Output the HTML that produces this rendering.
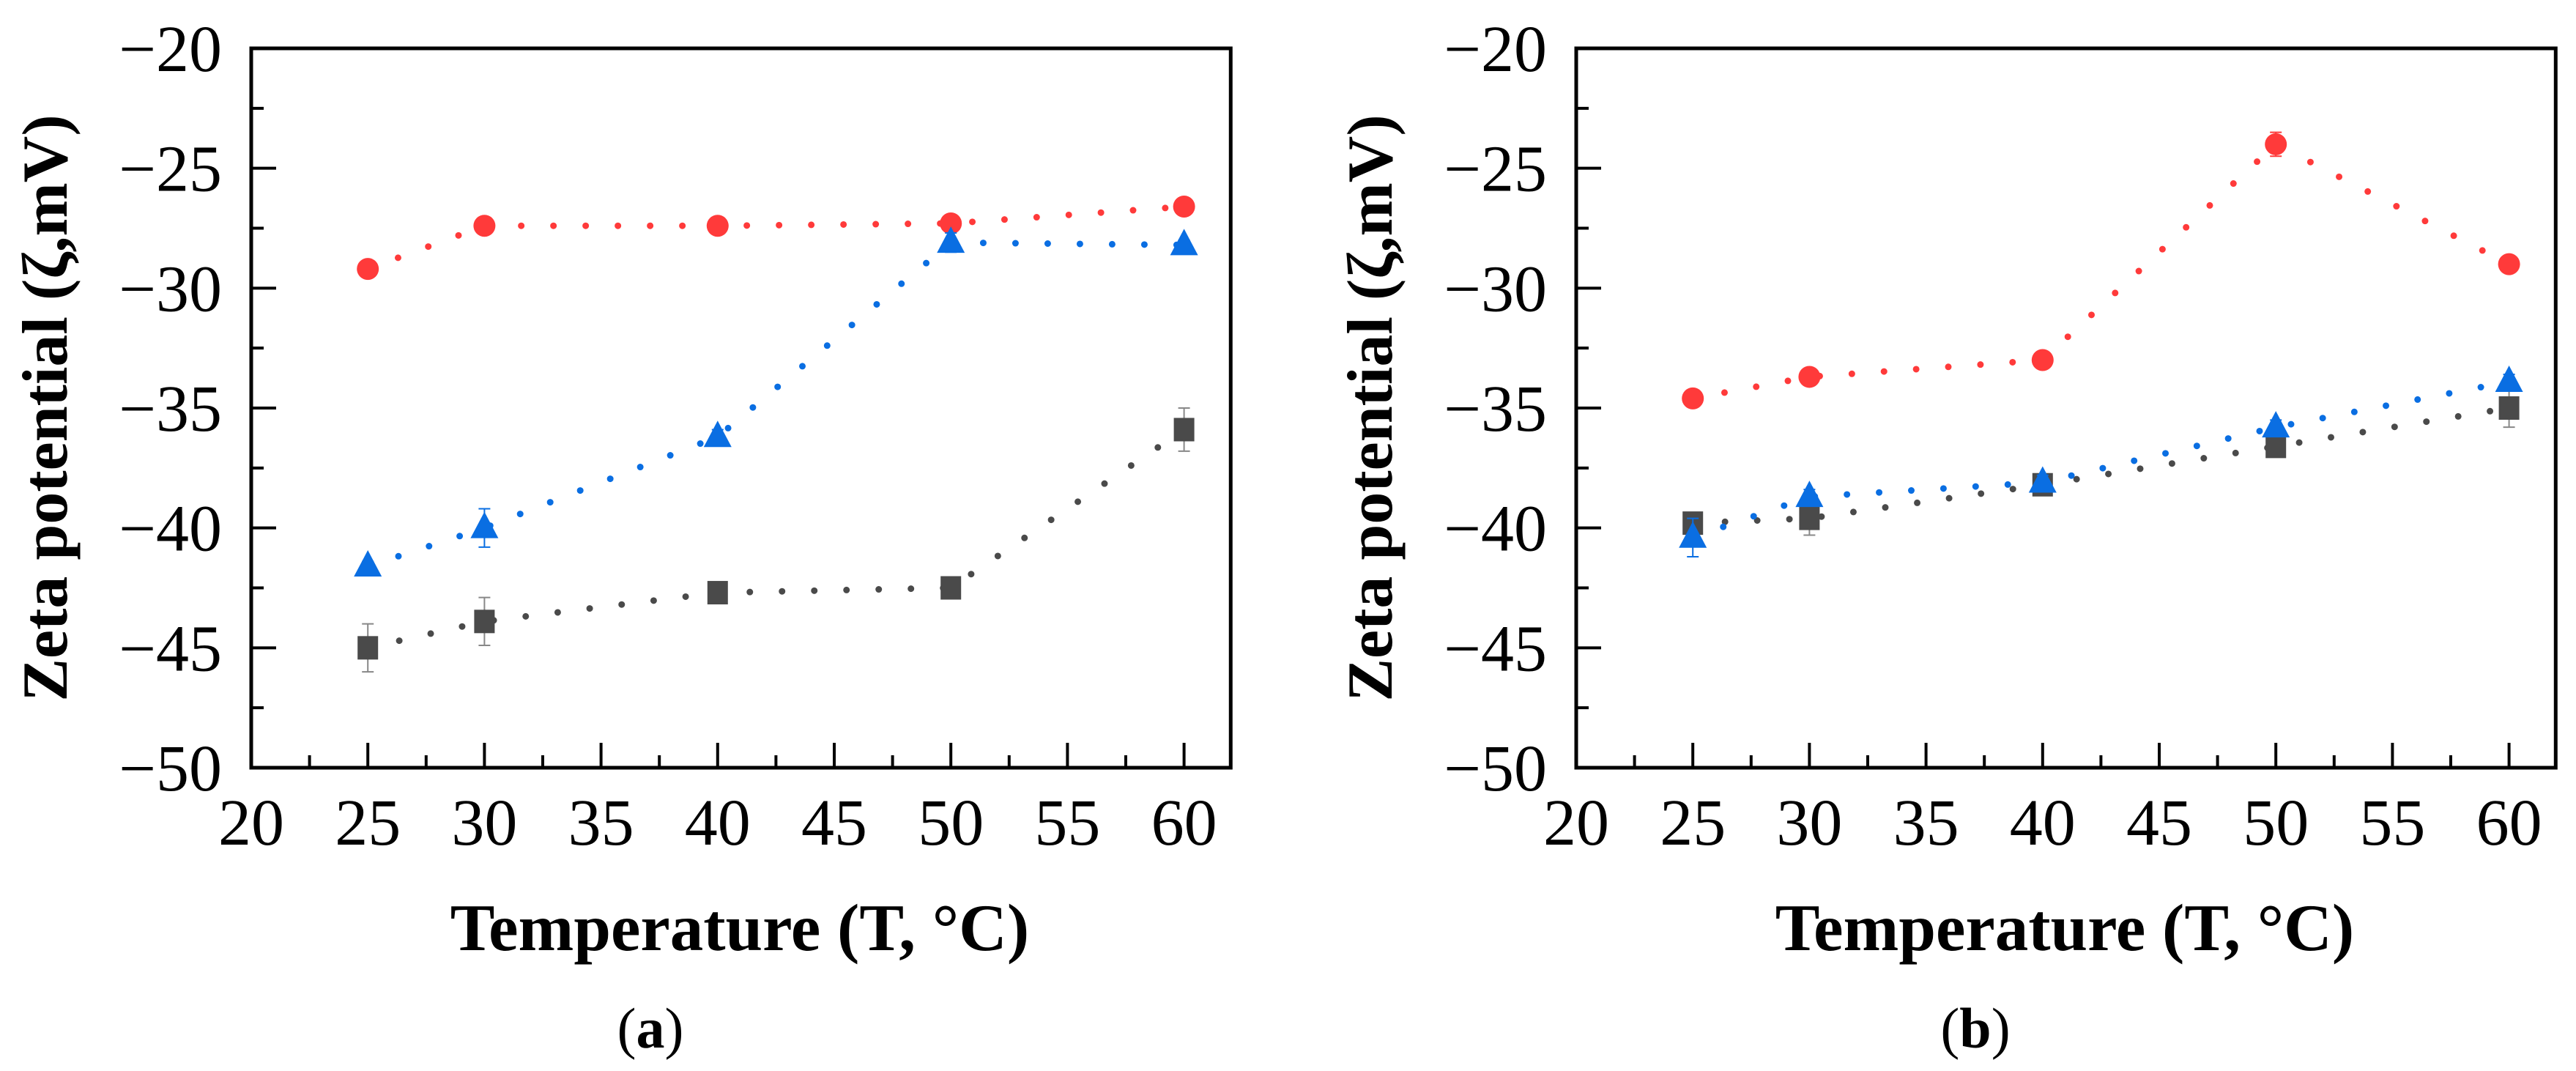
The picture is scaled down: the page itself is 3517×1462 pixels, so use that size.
<!DOCTYPE html>
<html><head><meta charset="utf-8"><style>
html,body{margin:0;padding:0;background:#fff;}
svg{display:block;font-family:"Liberation Serif",serif;}
</style></head><body>
<svg id="fig" width="3517" height="1462" viewBox="0 0 3517 1462" xmlns="http://www.w3.org/2000/svg"></svg>
<script>
const temps = [25, 30, 40, 50, 60];
const xTicks = [20, 25, 30, 35, 40, 45, 50, 55, 60];
const yTicks = [-20, -25, -30, -35, -40, -45, -50];
const aRed = [-29.2, -27.4, -27.4, -27.3, -26.6];
const aBlue = [-41.6, -40.0, -36.2, -28.1, -28.2];
const aGray = [-45.0, -43.9, -42.7, -42.5, -35.9];
const aRedErr = [0.2, 0.3, 0.2, 0.2, 0.2];
const aBlueErr = [0.2, 0.8, 0.3, 0.4, 0.2];
const aGrayErr = [1.0, 1.0, 0.4, 0.2, 0.9];
const bRed = [-34.6, -33.7, -33.0, -24.0, -29.0];
const bBlue = [-40.4, -38.7, -38.1, -35.8, -33.9];
const bGray = [-39.8, -39.6, -38.2, -36.6, -35.0];
const bRedErr = [0.2, 0.3, 0.2, 0.5, 0.2];
const bBlueErr = [0.8, 0.3, 0.3, 0.3, 0.3];
const bGrayErr = [0.2, 0.7, 0.4, 0.3, 0.8];

const NS = "http://www.w3.org/2000/svg";
const svg = document.getElementById('fig');
function mk(tag, attrs, parent) {
  const e = document.createElementNS(NS, tag);
  for (const k in attrs) e.setAttribute(k, attrs[k]);
  (parent || svg).appendChild(e);
  return e;
}
const RED = "#ff3a3a", BLUE = "#0a6ee2", GRAY = "#4a4a4a";

function panel(x0, red, blue, gray, redE, blueE, grayE, letter) {
  const top = 66, bot = 1048, xmin = 20, xmax = 62, ymin = -50, ymax = -20;
  const pxPer5 = 159.2;
  const X = v => x0 + (v - xmin) / 5 * pxPer5;
  const Y = v => bot - (v - ymin) / (ymax - ymin) * (bot - top);
  const right = X(xmax);
  const g = mk('g', {});
  
  
  for (let v = xmin; v <= 60.01; v += 2.5) {
    const major = Math.abs(v % 5) < 0.01;
    const t = mk('line', {x1: X(v), x2: X(v), y1: bot, y2: bot - (major ? 34 : 17), stroke: '#000', 'stroke-width': 4}, g);
    
    
  }
  for (let v = ymin; v <= ymax + 0.01; v += 2.5) {
    const major = Math.abs(v % 5) < 0.01;
    const t = mk('line', {x1: x0, x2: x0 + (major ? 34 : 17), y1: Y(v), y2: Y(v), stroke: '#000', 'stroke-width': 4}, g);
    
    
  }
  const box = mk('rect', {x: x0, y: top, width: right - x0, height: bot - top, fill: 'none', stroke: '#000', 'stroke-width': 5}, g);
  
  
  xTicks.forEach(v => {
    const t = mk('text', {x: X(v), y: 1153, 'font-size': 90, 'text-anchor': 'middle'}, g);
    t.textContent = v;
    
    
  });
  yTicks.forEach(v => {
    const t = mk('text', {x: x0 - 40, y: Y(v) + 31, 'font-size': 90, 'text-anchor': 'end'}, g);
    t.textContent = '\u2212' + Math.abs(v);
    
    
  });
  const xt = mk('text', {x: x0 + 667, y: 1297, 'font-size': 91, 'font-weight': 'bold', 'text-anchor': 'middle'}, g);
  xt.textContent = 'Temperature (T, \u00B0C)';
  
  
  const yt = mk('text', {x: 0, y: 0, 'font-size': 88, 'font-weight': 'bold', 'text-anchor': 'middle', transform: `translate(${x0 - 252},${(top + bot) / 2}) rotate(-90)`}, g);
  yt.textContent = 'Zeta potential (\u03B6,mV)';
  
  
  const cap = mk('text', {x: x0 + 545, y: 1430, 'font-size': 78, 'text-anchor': 'middle'}, g);
  cap.innerHTML = '(<tspan font-weight="bold">' + letter + '</tspan>)';
  
  

  function series(vals, errs, color, shape, name) {
    const pts = vals.map((v, i) => X(temps[i]) + ',' + Y(v)).join(' ');
    const l = mk('polyline', {points: pts, fill: 'none', stroke: color, 'stroke-width': 9, 'stroke-linecap': 'round', 'stroke-dasharray': '0 44'}, g);
    
    
    vals.forEach((v, i) => {
      const cx = X(temps[i]), cy = Y(v), e = errs[i];
      const eb = mk('path', {d: `M${cx},${Y(v + e)}V${Y(v - e)}M${cx - 8},${Y(v + e)}H${cx + 8}M${cx - 8},${Y(v - e)}H${cx + 8}`, stroke: shape === 'sq' ? '#888' : color, 'stroke-width': 2, fill: 'none'}, g);
      
      
      let m;
      if (shape === 'c') m = mk('circle', {cx, cy, r: 15, fill: color}, g);
      else if (shape === 't') m = mk('polygon', {points: `${cx},${cy - 22} ${cx - 19},${cy + 14} ${cx + 19},${cy + 14}`, fill: color}, g);
      else m = mk('rect', {x: cx - 14, y: cy - 16, width: 28, height: 32, fill: color}, g);
      
      
    });
  }
  series(gray, grayE, GRAY, 'sq', 'gray-series');
  series(red, redE, RED, 'c', 'red-series');
  series(blue, blueE, BLUE, 't', 'blue-series');
}
panel(343, aRed, aBlue, aGray, aRedErr, aBlueErr, aGrayErr, 'a');
panel(2152, bRed, bBlue, bGray, bRedErr, bBlueErr, bGrayErr, 'b');
</script>
</body></html>
